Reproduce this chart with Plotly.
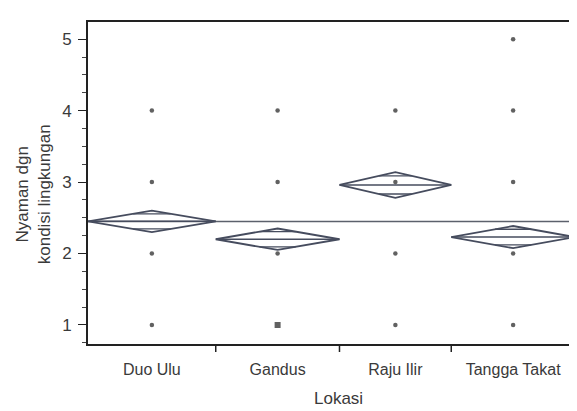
import math
import plotly.graph_objects as go

# ---- data ----
categories = ["Duo Ulu", "Gandus", "Raju Ilir", "Tangga Takat"]
sample_size = [32, 31, 28, 31]          # group widths on the x axis
group_mean = [2.45, 2.20, 2.96, 2.23]
ci_half = [0.15, 0.15, 0.18, 0.155]     # half height of the means diamonds

duo_ulu_obs = [1, 2, 3, 4]
gandus_obs = [1, 2, 3, 4]
raju_ilir_obs = [1, 2, 3, 4]
tangga_takat_obs = [1, 2, 3, 4, 5]
observations = [duo_ulu_obs, gandus_obs, raju_ilir_obs, tangga_takat_obs]

y_ticks = [1, 2, 3, 4, 5]

# ---- geometry derived from the data ----
bounds = [0]
for n in sample_size:
    bounds.append(bounds[-1] + n)
centers = [(bounds[i] + bounds[i + 1]) / 2 for i in range(len(categories))]
grand_mean = sum(m * n for m, n in zip(group_mean, sample_size)) / sum(sample_size)

DIAMOND = "#464c5e"
FONT = "Liberation Sans, Arial, sans-serif"
PLOT_H = 322

fig = go.Figure()

# grand mean line
fig.add_trace(go.Scatter(x=[bounds[0], bounds[-1]], y=[grand_mean, grand_mean],
                         mode="lines", line=dict(color="#5c616c", width=1.4),
                         hoverinfo="skip", showlegend=False))

# means diamonds
for i in range(len(categories)):
    x0, x1, xc = bounds[i], bounds[i + 1], centers[i]
    m, h = group_mean[i], ci_half[i]
    fig.add_trace(go.Scatter(x=[x0, xc, x1, xc, x0], y=[m, m + h, m, m - h, m],
                             mode="lines", line=dict(color=DIAMOND, width=1.8),
                             hoverinfo="skip", showlegend=False))
    fig.add_trace(go.Scatter(x=[x0, x1], y=[m, m], mode="lines",
                             line=dict(color=DIAMOND, width=1.5),
                             hoverinfo="skip", showlegend=False))
    k = 1 / math.sqrt(2)
    half_w = (x1 - x0) / 2
    for s in (1, -1):
        fig.add_trace(go.Scatter(x=[xc - half_w * (1 - k), xc + half_w * (1 - k)],
                                 y=[m + s * h * k, m + s * h * k], mode="lines",
                                 line=dict(color=DIAMOND, width=1.3),
                                 hoverinfo="skip", showlegend=False))

# observations
for i, obs in enumerate(observations):
    sym = ["square" if (categories[i] == "Gandus" and v == 1) else "circle" for v in obs]
    size = [6 if s == "square" else 4.5 for s in sym]
    fig.add_trace(go.Scatter(x=[centers[i]] * len(obs), y=obs, mode="markers",
                             marker=dict(color="#1e1e1e", size=size, symbol=sym,
                                         line=dict(width=0)),
                             showlegend=False))

# category boundary ticks below the x axis
for b in bounds[1:-1]:
    fig.add_shape(type="line", xref="x", yref="paper", x0=b, x1=b, y0=0, y1=-8 / PLOT_H,
                  line=dict(color="#222", width=1.5))

fig.add_annotation(text="Nyaman dgn<br>kondisi lingkungan", xref="paper", yref="paper",
                   x=-0.113, y=0.465, xanchor="center", yanchor="middle",
                   textangle=-90, showarrow=False,
                   font=dict(family=FONT, size=17, color="#3a3a3a"))
fig.add_annotation(text="Lokasi", xref="paper", yref="paper", x=0.515, y=-0.168,
                   xanchor="center", yanchor="middle",
                   showarrow=False, font=dict(family=FONT, size=17, color="#3a3a3a"))

fig.update_layout(
    width=569, height=403,
    margin=dict(l=80, r=2, t=14, b=67, autoexpand=False),
    paper_bgcolor="white", plot_bgcolor="white",
    font=dict(family=FONT, size=17, color="#3a3a3a"),
    xaxis=dict(range=[bounds[0], bounds[-1]], tickvals=centers, ticktext=categories,
               ticks="", showgrid=False, zeroline=False, showline=True,
               linecolor="#222", linewidth=1.6, mirror=True, automargin=False,
               ticklabelstandoff=10, tickfont=dict(size=16, color="#3a3a3a")),
    yaxis=dict(range=[0.734, 5.24], tickvals=y_ticks, ticks="outside", ticklen=8,
               tickwidth=1.4, tickcolor="#222", automargin=False, ticklabelstandoff=3,
               minor=dict(dtick=0.25, ticks="outside", ticklen=4, tickcolor="#444"),
               showgrid=False, zeroline=False, showline=True, linecolor="#222",
               linewidth=1.6, mirror=True, tickfont=dict(size=17, color="#3a3a3a")),
)

fig.write_html("out.html")
